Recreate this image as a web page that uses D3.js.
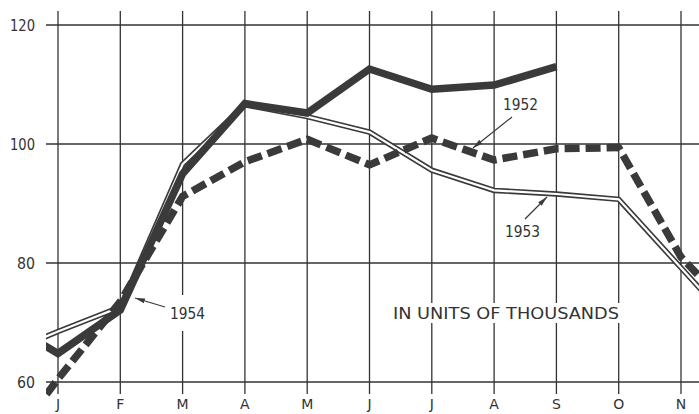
<!DOCTYPE html>
<html>
<head>
<meta charset="utf-8">
<script src="https://cdn.jsdelivr.net/npm/d3@7"></script>
<style>
  body { margin: 0; background: #fff; }
  text { font-family: "DejaVu Sans", sans-serif; fill: #333; }
</style>
</head>
<body>
<script>
// month labels (first D is previous year, last D falls off the right edge)
var months = ["D", "J", "F", "M", "A", "M", "J", "J", "A", "S", "O", "N", "D"];
var yTicks = [60, 80, 100, 120];

// values in thousands
var s1952 = [46.7, 60.5, 73.5, 91.2, 97, 100.8, 96.5, 101, 97.3, 99.2, 99.4, 81, 70];
var s1953 = [64.1, 68.5, 72.6, 96.6, 106.6, 104.6, 102, 95.6, 92.2, 91.6, 90.7, 79.2, 67.7];
var s1954 = [71, 64.8, 72.1, 95, 106.8, 105.2, 112.6, 109.2, 109.9, 113, null, null, null];

window.onload = function(){
    var w = 699, h = 414;
    var svg = d3.select("body").append("svg")
        .attr("width", w)
        .attr("height", h);

    // scales -- index 1 (J) sits at 58, index 11 (N) at 681
    var x = d3.scaleLinear().domain([1, 11]).range([58, 681]);
    var y = d3.scaleLinear().domain([60, 120]).range([382, 25]);

    var ink = "#3a3a3a";

    // arrow head
    svg.append("defs").append("marker")
        .attr("id", "arr")
        .attr("markerUnits", "userSpaceOnUse")
        .attr("markerWidth", 12).attr("markerHeight", 8)
        .attr("refX", 10).attr("refY", 4)
        .attr("orient", "auto")
        .append("path")
        .attr("d", "M0,1.5L10,4L0,6.5Z")
        .attr("fill", ink);

    svg.select("defs").append("clipPath")
        .attr("id", "plotclip")
        .append("rect")
        .attr("x", 46).attr("y", 0)
        .attr("width", w - 46).attr("height", h);

    // grid
    var grid = svg.append("g").attr("class", "grid")
        .attr("stroke", "#333").attr("stroke-width", 1.3);
    grid.selectAll(".vline")
        .data(months)
        .enter().append("line")
        .attr("class", "vline")
        .attr("x1", function(d, i){ return x(i); })
        .attr("x2", function(d, i){ return x(i); })
        .attr("y1", 11)
        .attr("y2", 394);
    grid.selectAll(".hline")
        .data(yTicks)
        .enter().append("line")
        .attr("class", "hline")
        .attr("x1", 46)
        .attr("x2", w)
        .attr("y1", function(d){ return y(d); })
        .attr("y2", function(d){ return y(d); });

    // y tick labels
    svg.selectAll(".ylab")
        .data(yTicks)
        .enter().append("text")
        .attr("class", "ylab")
        .attr("x", function(d){ return d >= 100 ? 10 : 17; })
        .attr("y", function(d){ return y(d) + 6; })
        .attr("font-size", 16)
        .attr("textLength", function(d){ return d >= 100 ? 25 : 18; })
        .attr("lengthAdjust", "spacingAndGlyphs")
        .text(function(d){ return d; });

    // month labels -- only the ones that fall inside the picture (J..N)
    var shown = months.map(function(d, i){ return {m: d, i: i}; })
        .filter(function(d){ return d.i >= 1 && d.i <= 11; });
    svg.selectAll(".mlab")
        .data(shown)
        .enter().append("text")
        .attr("class", "mlab")
        .attr("x", function(d){ return x(d.i); })
        .attr("y", 409)
        .attr("text-anchor", "middle")
        .attr("font-size", 14)
        .text(function(d){ return d.m; });

    // series
    var line = d3.line()
        .defined(function(d){ return d != null; })
        .x(function(d, i){ return x(i); })
        .y(function(d){ return y(d); });

    var plot = svg.append("g").attr("clip-path", "url(#plotclip)")
        .attr("fill", "none");

    // 1953 -- double line (dark stroke with white core)
    plot.append("path").datum(s1953)
        .attr("d", line)
        .attr("stroke", ink).attr("stroke-width", 5.5)
        .attr("stroke-linejoin", "miter");
    plot.append("path").datum(s1953)
        .attr("d", line)
        .attr("stroke", "#fff").attr("stroke-width", 2.2)
        .attr("stroke-linejoin", "miter");

    // 1954 -- heavy solid
    plot.append("path").datum(s1954)
        .attr("d", line)
        .attr("stroke", ink).attr("stroke-width", 7.5)
        .attr("stroke-linejoin", "miter");

    // 1952 -- heavy dashes
    plot.append("path").datum(s1952)
        .attr("d", line)
        .attr("stroke", ink).attr("stroke-width", 7.5)
        .attr("stroke-dasharray", "15,6")
        .attr("stroke-linejoin", "round");

    // labels with arrows
    var notes = svg.append("g");
    notes.append("rect")
        .attr("x", 166).attr("y", 295).attr("width", 44).attr("height", 36)
        .attr("fill", "#fff");
    notes.append("rect")
        .attr("x", 389).attr("y", 303).attr("width", 235).attr("height", 20)
        .attr("fill", "#fff");

    var arrows = [
        {x1: 512, y1: 117, x2: 473, y2: 148},
        {x1: 525, y1: 219, x2: 547, y2: 197},
        {x1: 165, y1: 307, x2: 135, y2: 298}
    ];
    notes.selectAll(".arrow")
        .data(arrows)
        .enter().append("line")
        .attr("class", "arrow")
        .attr("x1", function(d){ return d.x1; })
        .attr("y1", function(d){ return d.y1; })
        .attr("x2", function(d){ return d.x2; })
        .attr("y2", function(d){ return d.y2; })
        .attr("stroke", ink).attr("stroke-width", 1.2)
        .attr("marker-end", "url(#arr)");

    var labels = [
        {t: "1952", x: 503, y: 110, len: 35},
        {t: "1953", x: 505, y: 237, len: 35},
        {t: "1954", x: 170, y: 319, len: 35},
        {t: "IN UNITS OF THOUSANDS", x: 393, y: 319, len: 226}
    ];
    notes.selectAll(".lab")
        .data(labels)
        .enter().append("text")
        .attr("class", "lab")
        .attr("x", function(d){ return d.x; })
        .attr("y", function(d){ return d.y; })
        .attr("font-size", 16)
        .attr("textLength", function(d){ return d.len; })
        .attr("lengthAdjust", "spacingAndGlyphs")
        .text(function(d){ return d.t; });
};
</script>
</body>
</html>
